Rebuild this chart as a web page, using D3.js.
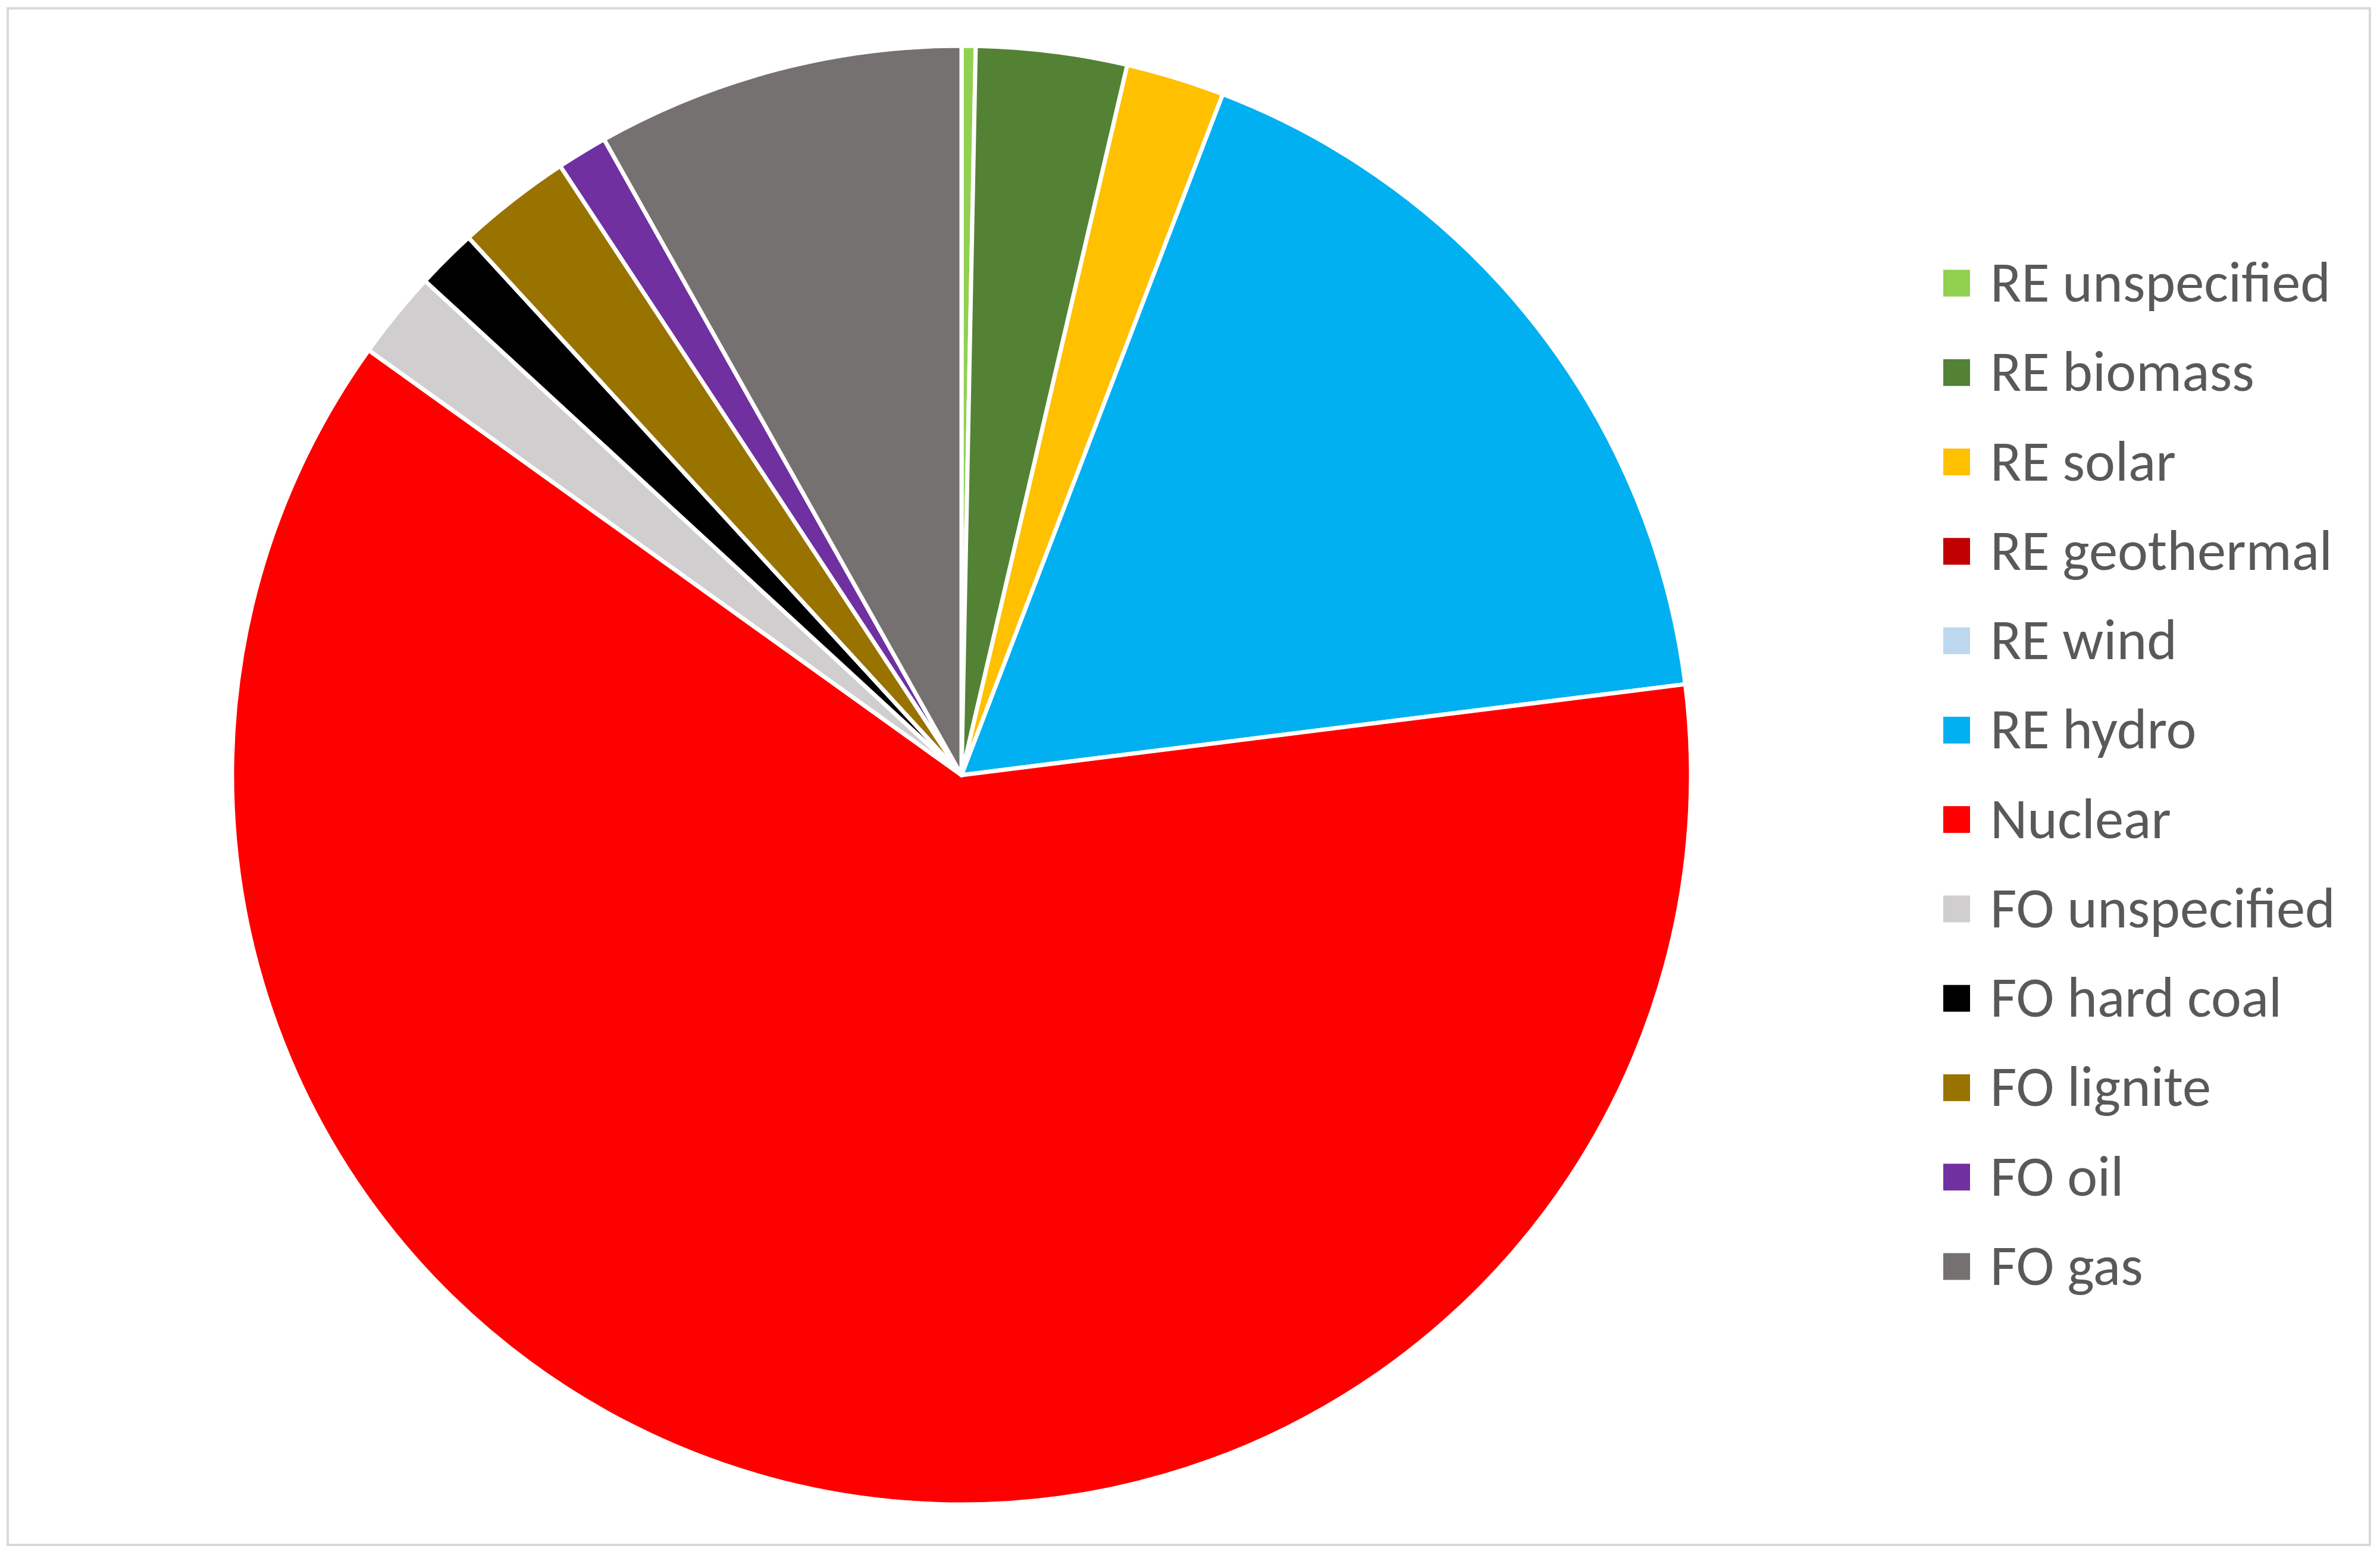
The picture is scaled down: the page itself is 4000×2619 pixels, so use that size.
<!DOCTYPE html>
<html>
<head>
<meta charset="utf-8">
<script src="https://cdn.jsdelivr.net/npm/d3@7/dist/d3.min.js"></script>
<style>
  html, body { margin: 0; padding: 0; background: #ffffff; }
  svg { display: block; }
</style>
</head>
<body>
<script>
// ---- Data (shares in %) ----
const categories = [
  "RE unspecified", "RE biomass", "RE solar", "RE geothermal", "RE wind", "RE hydro",
  "Nuclear", "FO unspecified", "FO hard coal", "FO lignite", "FO oil", "FO gas"
];
const shares = [0.31, 3.34, 2.18, 0, 0, 17.18, 61.89, 1.95, 1.34, 2.54, 1.12, 8.15];
const colors = [
  "#92D050", "#548235", "#FFC000", "#C00000", "#BDD7EE", "#00B0F0",
  "#FF0000", "#D0CECE", "#000000", "#997300", "#7030A0", "#767171"
];

// ---- Layout ----
const W = 4000, H = 2619;
const cx = 1616, cy = 1303, R = 1226;

const svg = d3.select("body").append("svg")
  .attr("width", W).attr("height", H)
  .attr("viewBox", `0 0 ${W} ${H}`);

svg.append("rect").attr("width", W).attr("height", H).attr("fill", "#ffffff");

// chart area border
svg.append("rect")
  .attr("x", 13).attr("y", 14)
  .attr("width", 3983 - 13).attr("height", 2597 - 14)
  .attr("fill", "none")
  .attr("stroke", "#d9d9d9")
  .attr("stroke-width", 4);

const data = categories.map((c, i) => ({ name: c, value: shares[i], color: colors[i] }));

const pie = d3.pie().sort(null).value(d => d.value).startAngle(0).endAngle(2 * Math.PI);
const arc = d3.arc().innerRadius(0).outerRadius(R);

const g = svg.append("g").attr("transform", `translate(${cx},${cy})`);
g.selectAll("path.slice")
  .data(pie(data).filter(d => d.data.value > 0))
  .enter().append("path")
  .attr("class", "slice")
  .attr("d", arc)
  .attr("fill", d => d.data.color)
  .attr("stroke", "#ffffff")
  .attr("stroke-width", 7)
  .attr("stroke-linejoin", "round");

// ---- Legend ----
const legendY = d3.scaleLinear().domain([0, categories.length - 1]).range([476, 2129]);
const sq = 45;
const lg = svg.append("g");
const items = lg.selectAll("g.item").data(data).enter().append("g").attr("class", "item")
  .attr("transform", (d, i) => `translate(3266,${legendY(i)})`);

items.append("rect")
  .attr("x", 0).attr("y", -sq / 2)
  .attr("width", sq).attr("height", sq)
  .attr("fill", d => d.color);

const texts = items.append("text")
  .attr("x", 79).attr("y", 31)
  .attr("fill", "#595959")
  .style("font-family", "Carlito, Calibri, Lato, 'Open Sans', sans-serif")
  .style("font-size", "88px")
  .text(d => d.name);

// fit font so "RE unspecified" spans ~572px as in the reference
const probe = texts.filter((d, i) => i === 0).node();
const w0 = probe.getComputedTextLength();
if (w0 > 0) {
  const fs = 88 * 572 / w0;
  texts.style("font-size", fs.toFixed(1) + "px");
}
</script>
</body>
</html>
